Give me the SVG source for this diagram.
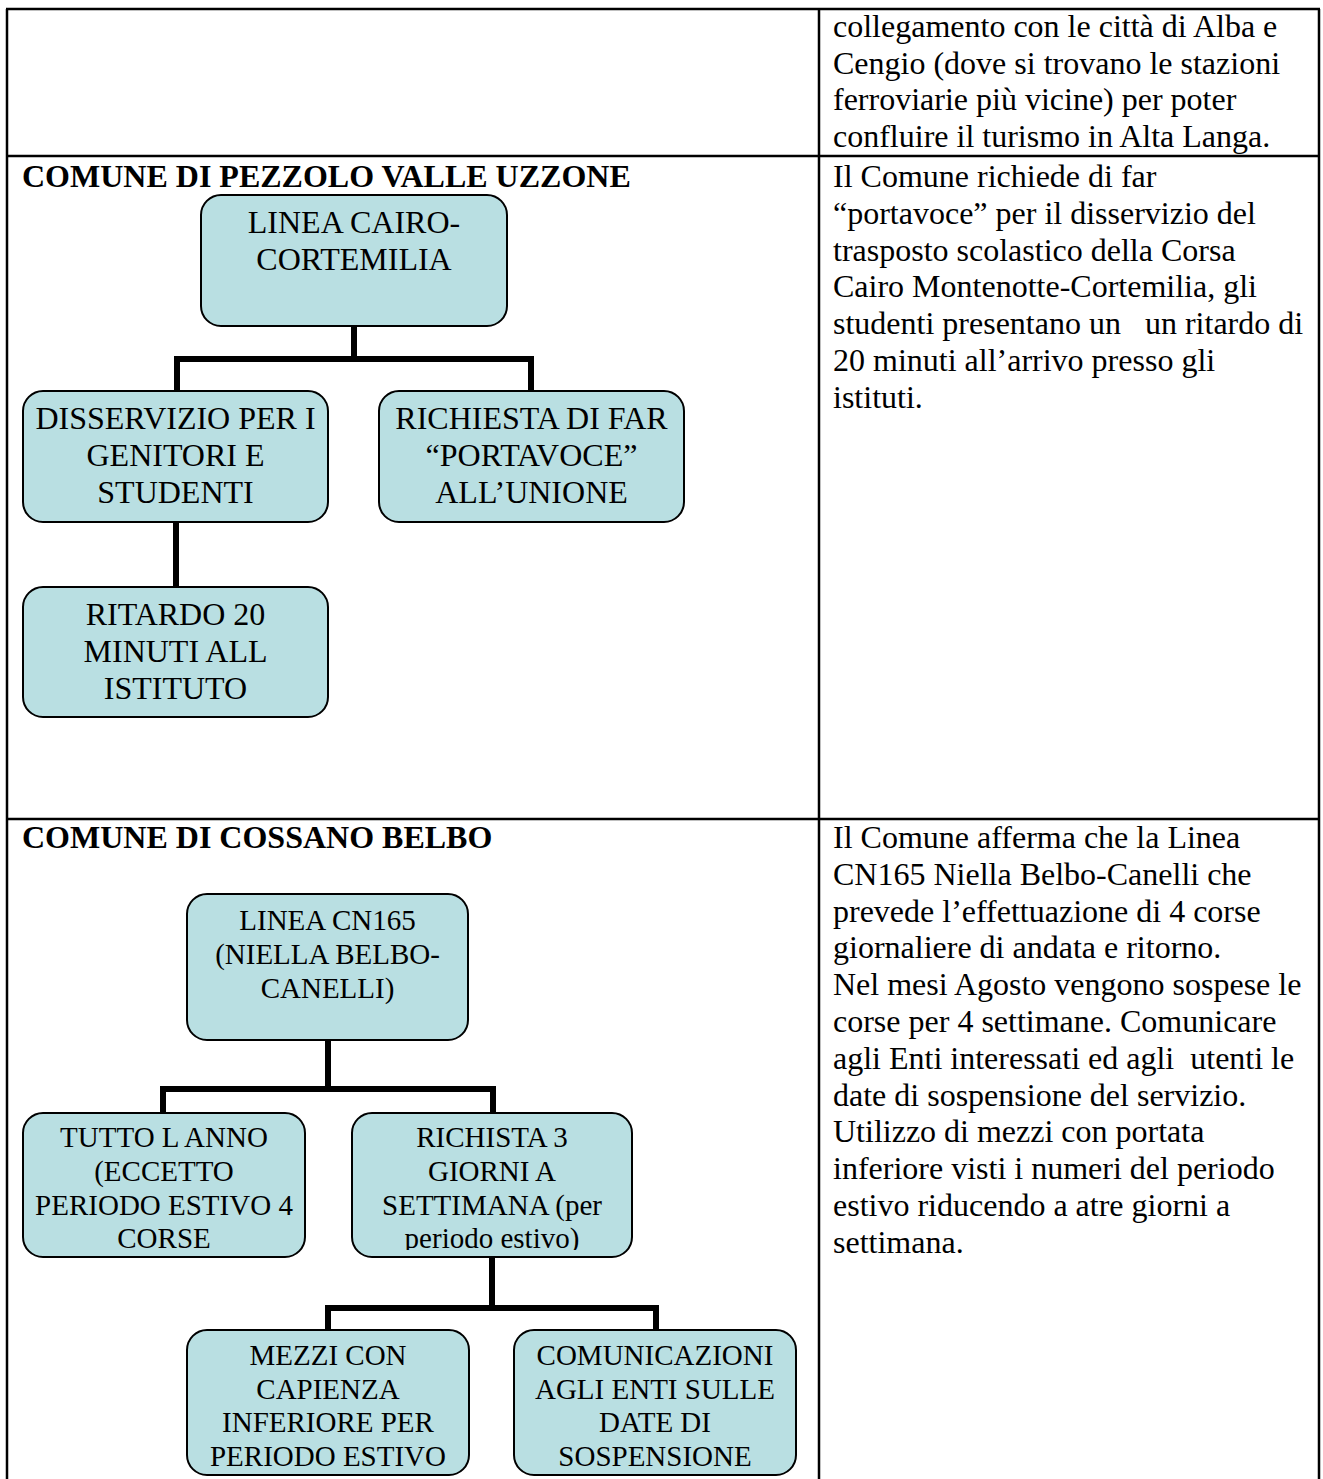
<svg xmlns="http://www.w3.org/2000/svg" width="1323" height="1479" viewBox="0 0 1323 1479">
<style>
.t{font-family:"Liberation Serif","Times New Roman",serif;fill:#000}
.p{font-size:32px;white-space:pre}
.h{font-size:32px;font-weight:bold}
.n32{font-size:32px;text-anchor:middle}
.n29{font-size:29px;text-anchor:middle}
.box{fill:#B9DFE2;stroke:#000;stroke-width:2}
.grid{stroke:#000;stroke-width:2.5;fill:none}
.con{stroke:#000;stroke-width:6;fill:none;stroke-linecap:butt;stroke-linejoin:miter}
</style>
<defs>
<clipPath id="clipRichista"><rect x="352" y="1113" width="280" height="137"/></clipPath>
</defs>
<rect width="1323" height="1479" fill="#fff"/>

<g id="table">
<line class="grid" x1="6" y1="9" x2="1320" y2="9"/>
<line class="grid" x1="7" y1="9" x2="7" y2="1479"/>
<line class="grid" x1="819" y1="9" x2="819" y2="1479"/>
<line class="grid" x1="1319" y1="9" x2="1319" y2="1479"/>
<line class="grid" x1="6" y1="156" x2="1320" y2="156"/>
<line class="grid" x1="6" y1="819" x2="1320" y2="819"/>
</g>

<g id="right-text" class="t p">
<text x="833" y="37">collegamento con le città di Alba e</text>
<text x="833" y="73.5">Cengio (dove si trovano le stazioni</text>
<text x="833" y="110">ferroviarie più vicine) per poter</text>
<text x="833" y="147">confluire il turismo in Alta Langa.</text>
<text x="833" y="187">Il Comune richiede di far</text>
<text x="833" y="224">“portavoce” per il disservizio del</text>
<text x="833" y="261">trasposto scolastico della Corsa</text>
<text x="833" y="297">Cairo Montenotte-Cortemilia, gli</text>
<text x="833" y="334" style="white-space:pre">studenti presentano un   un ritardo di</text>
<text x="833" y="371">20 minuti all’arrivo presso gli</text>
<text x="833" y="408">istituti.</text>
<text x="833" y="848">Il Comune afferma che la Linea</text>
<text x="833" y="885">CN165 Niella Belbo-Canelli che</text>
<text x="833" y="922">prevede l’effettuazione di 4 corse</text>
<text x="833" y="958">giornaliere di andata e ritorno.</text>
<text x="833" y="995">Nel mesi Agosto vengono sospese le</text>
<text x="833" y="1032">corse per 4 settimane. Comunicare</text>
<text x="833" y="1069" style="white-space:pre">agli Enti interessati ed agli  utenti le</text>
<text x="833" y="1106">date di sospensione del servizio.</text>
<text x="833" y="1142">Utilizzo di mezzi con portata</text>
<text x="833" y="1179">inferiore visti i numeri del periodo</text>
<text x="833" y="1216">estivo riducendo a atre giorni a</text>
<text x="833" y="1253">settimana.</text>
</g>

<g id="titles" class="t h">
<text x="22" y="187">COMUNE DI PEZZOLO VALLE UZZONE</text>
<text x="22" y="848">COMUNE DI COSSANO BELBO</text>
</g>

<g id="connectors">
<path class="con" d="M354 326 V359 M174 359 H534 M177 359 V391 M531 359 V391"/>
<path class="con" d="M176 522 V587"/>
<path class="con" d="M328 1040 V1089 M160 1089 H496 M163 1089 V1113 M493 1089 V1113"/>
<path class="con" d="M492 1257 V1308 M325 1308 H659 M328 1308 V1330 M656 1308 V1330"/>
</g>

<g id="n-linea-cairo">
<rect class="box" x="201" y="195" width="306" height="131" rx="20"/>
<text class="t n32" x="354" y="233">LINEA CAIRO-</text>
<text class="t n32" x="354" y="270">CORTEMILIA</text>
</g>
<g id="n-disservizio">
<rect class="box" x="23" y="391" width="305" height="131" rx="20"/>
<text class="t n32" x="175.5" y="429">DISSERVIZIO PER I</text>
<text class="t n32" x="175.5" y="466">GENITORI E</text>
<text class="t n32" x="175.5" y="503">STUDENTI</text>
</g>
<g id="n-richiesta-portavoce">
<rect class="box" x="379" y="391" width="305" height="131" rx="20"/>
<text class="t n32" x="531.5" y="429">RICHIESTA DI FAR</text>
<text class="t n32" x="531.5" y="466">“PORTAVOCE”</text>
<text class="t n32" x="531.5" y="503">ALL’UNIONE</text>
</g>
<g id="n-ritardo">
<rect class="box" x="23" y="587" width="305" height="130" rx="20"/>
<text class="t n32" x="175.5" y="625">RITARDO 20</text>
<text class="t n32" x="175.5" y="662">MINUTI ALL</text>
<text class="t n32" x="175.5" y="699">ISTITUTO</text>
</g>

<g id="n-linea-cn165">
<rect class="box" x="187" y="894" width="281" height="146" rx="20"/>
<text class="t n29" x="327.5" y="930">LINEA CN165</text>
<text class="t n29" x="327.5" y="964">(NIELLA BELBO-</text>
<text class="t n29" x="327.5" y="998">CANELLI)</text>
</g>
<g id="n-tutto-anno">
<rect class="box" x="23" y="1113" width="282" height="144" rx="20"/>
<text class="t n29" x="164" y="1147">TUTTO L ANNO</text>
<text class="t n29" x="164" y="1181">(ECCETTO</text>
<text class="t n29" x="164" y="1215">PERIODO ESTIVO 4</text>
<text class="t n29" x="164" y="1248">CORSE</text>
</g>
<g id="n-richista-3">
<rect class="box" x="352" y="1113" width="280" height="144" rx="20"/>
<g clip-path="url(#clipRichista)">
<text class="t n29" x="492" y="1147">RICHISTA 3</text>
<text class="t n29" x="492" y="1181">GIORNI A</text>
<text class="t n29" x="492" y="1215">SETTIMANA (per</text>
<text class="t n29" x="492" y="1248">periodo estivo)</text>
</g>
</g>
<g id="n-mezzi">
<rect class="box" x="187" y="1330" width="282" height="145" rx="20"/>
<text class="t n29" x="328" y="1365">MEZZI CON</text>
<text class="t n29" x="328" y="1399">CAPIENZA</text>
<text class="t n29" x="328" y="1432">INFERIORE PER</text>
<text class="t n29" x="328" y="1466">PERIODO ESTIVO</text>
</g>
<g id="n-comunicazioni">
<rect class="box" x="514" y="1330" width="282" height="145" rx="20"/>
<text class="t n29" x="655" y="1365">COMUNICAZIONI</text>
<text class="t n29" x="655" y="1399">AGLI ENTI SULLE</text>
<text class="t n29" x="655" y="1432">DATE DI</text>
<text class="t n29" x="655" y="1466">SOSPENSIONE</text>
</g>
</svg>
